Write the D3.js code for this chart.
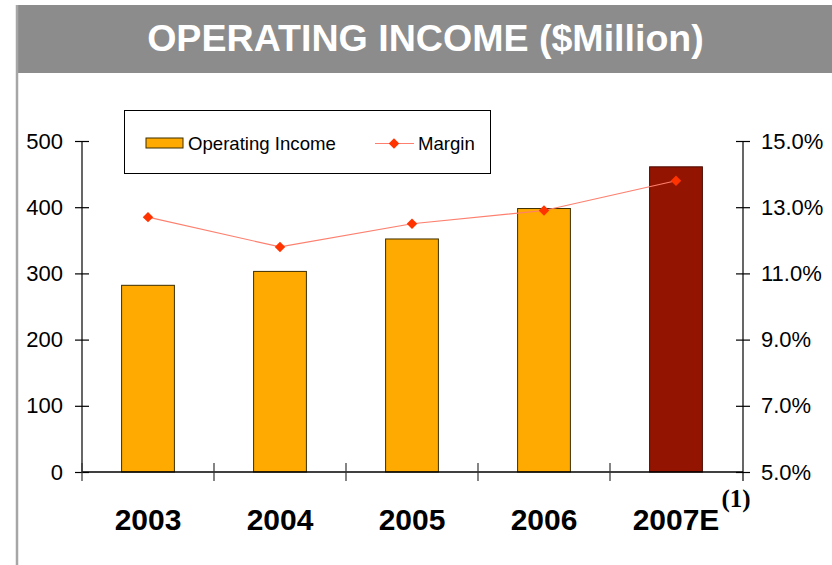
<!DOCTYPE html>
<html>
<head>
<meta charset="utf-8">
<script src="https://cdn.jsdelivr.net/npm/d3@7/dist/d3.min.js"></script>
<style>
  html, body { margin: 0; padding: 0; background: #fff; }
  svg { display: block; }
  text { font-family: "Liberation Sans", Arial, sans-serif; }
</style>
</head>
<body>
<svg id="chart" width="832" height="565"></svg>
<script>
// Operating income by year ($ million) and operating margin (%)
const years = ["2003", "2004", "2005", "2006", "2007E"];
const income = [282, 303, 352, 398, 461];
const margin = [12.7, 11.8, 12.5, 12.9, 13.8];
const estimateYears = ["2007E"];
const incomeTicks = [0, 100, 200, 300, 400, 500];
const marginTicks = [5, 7, 9, 11, 13, 15];

const svg = d3.select("#chart");
const W = 832, H = 565;

// Frame: title band and left rule
svg.append("rect").attr("x", 16).attr("y", 5).attr("width", W - 16).attr("height", 68)
  .attr("fill", "#8c8c8c");
svg.append("line").attr("x1", 17).attr("x2", 17).attr("y1", 5).attr("y2", H)
  .attr("stroke", "#a6a6a6").attr("stroke-width", 2.5);
svg.append("text").attr("x", 425.5).attr("y", 51)
  .attr("text-anchor", "middle").attr("fill", "#fff")
  .attr("font-weight", "bold").attr("font-size", 37.6)
  .text("OPERATING INCOME ($Million)");

// Plot geometry
const plotLeft = 82, plotRight = 743, plotTop = 141, plotBottom = 472;

const x = d3.scaleBand().domain(years).range([plotLeft, plotRight - 1])
  .paddingInner(0.6).paddingOuter(0.3);
const xEdge = d3.scaleBand().domain(years).range([plotLeft, plotRight - 1]).padding(0);
const y = d3.scaleLinear().domain([0, 500]).range([plotBottom, plotTop]);
const y2 = d3.scaleLinear().domain([5, 15]).range([plotBottom, plotTop]);

// Bars
svg.append("g").selectAll("rect").data(years).join("rect")
  .attr("x", d => x(d))
  .attr("y", (d, i) => y(income[i]))
  .attr("width", x.bandwidth())
  .attr("height", (d, i) => y(0) - y(income[i]))
  .attr("fill", d => estimateYears.includes(d) ? "#931400" : "#ffaa00")
  .attr("stroke", d => estimateYears.includes(d) ? "#4a0a00" : "#3d2e00")
  .attr("stroke-width", 1);

// Left axis
const gl = svg.append("g").attr("transform", `translate(${plotLeft},0)`)
  .call(d3.axisLeft(y).tickValues(incomeTicks).tickSize(7).tickPadding(12).tickFormat(d3.format("d")));
gl.selectAll(".tick line").attr("x1", -7).attr("x2", 7);
gl.select(".domain").attr("d", `M0,${plotTop}V${plotBottom}`);

// Right axis
const gr = svg.append("g").attr("transform", `translate(${plotRight},0)`)
  .call(d3.axisRight(y2).tickValues(marginTicks).tickSize(7).tickPadding(11).tickFormat(d => d.toFixed(1) + "%"));
gr.selectAll(".tick line").attr("x1", -7).attr("x2", 7);
gr.select(".domain").attr("d", `M0,${plotTop}V${plotBottom + 9}`);

[gl, gr].forEach(g => {
  g.selectAll("line, path").attr("stroke", "#000").attr("stroke-width", 1.2);
  g.selectAll("text").attr("font-size", 22).attr("fill", "#000")
    .style("font-family", "'Liberation Sans', Arial, sans-serif");
});

// Category axis: baseline and dividers between years
svg.append("line").attr("x1", plotLeft).attr("x2", plotRight).attr("y1", plotBottom).attr("y2", plotBottom)
  .attr("stroke", "#000").attr("stroke-width", 1.5);
const edges = years.map(d => xEdge(d));
svg.append("g").selectAll("line").data(edges).join("line")
  .attr("x1", d => d).attr("x2", d => d)
  .attr("y1", plotBottom - 9).attr("y2", plotBottom + 9)
  .attr("stroke", "#333").attr("stroke-width", 1.2);

const labels = svg.append("g").selectAll("text").data(years).join("text")
  .attr("x", d => x(d) + x.bandwidth() / 2)
  .attr("y", 530)
  .attr("text-anchor", "middle")
  .attr("font-weight", "bold").attr("font-size", 30)
  .text(d => d);

// Footnote marker on the estimate year
const estLabel = labels.filter(d => estimateYears.includes(d)).node();
const bb = estLabel.getBBox();
svg.append("text").attr("x", bb.x + bb.width + 2).attr("y", 507)
  .style("font-family", "'Liberation Serif', 'Times New Roman', serif")
  .attr("font-weight", "bold").attr("font-size", 25).text("(1)");

// Margin line
const line = d3.line().x((d, i) => x(years[i]) + x.bandwidth() / 2).y(d => y2(d));
svg.append("path").datum(margin).attr("d", line)
  .attr("fill", "none").attr("stroke", "#ff7f6e").attr("stroke-width", 1.2);
const diamond = d3.symbol().type(d3.symbolDiamond2).size(70);
svg.append("g").selectAll("path").data(margin).join("path")
  .attr("transform", (d, i) => `translate(${x(years[i]) + x.bandwidth() / 2},${y2(d)})`)
  .attr("d", diamond).attr("fill", "#ff3300");

// Legend
const lg = svg.append("g");
lg.append("rect").attr("x", 124.5).attr("y", 110.5).attr("width", 366).attr("height", 63)
  .attr("fill", "#fff").attr("stroke", "#000").attr("stroke-width", 1);
lg.append("rect").attr("x", 146).attr("y", 138).attr("width", 37).attr("height", 10)
  .attr("fill", "#ffaa00").attr("stroke", "#3d2e00").attr("stroke-width", 1);
lg.append("text").attr("x", 188).attr("y", 150).attr("font-size", 18.6).text("Operating Income");
lg.append("line").attr("x1", 375).attr("x2", 414).attr("y1", 143.5).attr("y2", 143.5)
  .attr("stroke", "#ff7f6e").attr("stroke-width", 1.2);
lg.append("path").attr("transform", "translate(394,143.5)").attr("d", diamond).attr("fill", "#ff3300");
lg.append("text").attr("x", 418).attr("y", 150).attr("font-size", 18.6).text("Margin");
</script>
</body>
</html>
